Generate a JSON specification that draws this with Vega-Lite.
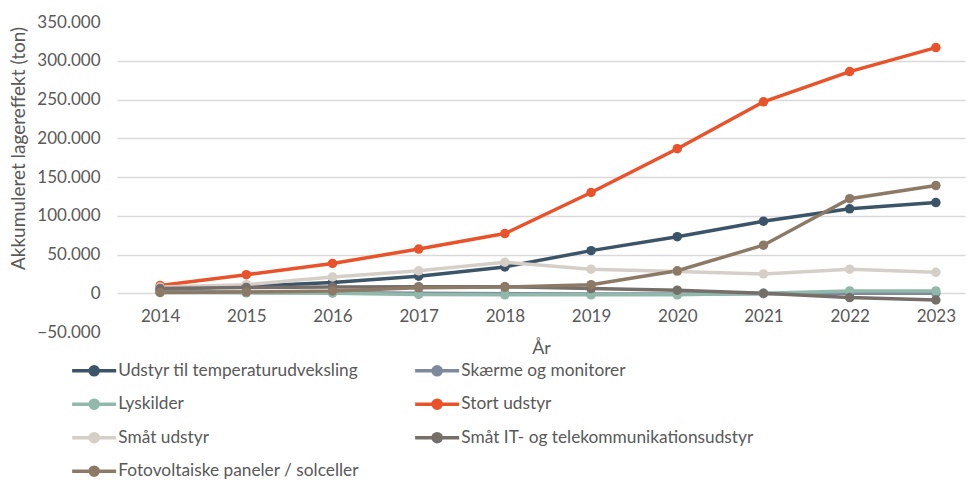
{
  "$schema": "https://vega.github.io/schema/vega-lite/v6.json",
  "autosize": {"type": "none"},
  "padding": {"left": 117, "top": 22, "right": 2, "bottom": 151},
  "width": 848,
  "height": 310,
  "background": "white",
  "config": {
    "view": {"stroke": null},
    "font": "Lato",
    "axis": {"labelFont": "Lato", "titleFont": "Lato", "labelColor": "#595959", "titleColor": "#595959", "titleFontWeight": "normal"},
    "legend": {"labelFont": "Lato", "labelColor": "#595959"}
  },
  "data": {
    "values": [
      {"year": 2014, "serie": "Udstyr til temperaturudveksling", "value": 5000},
      {"year": 2015, "serie": "Udstyr til temperaturudveksling", "value": 9000},
      {"year": 2016, "serie": "Udstyr til temperaturudveksling", "value": 14000},
      {"year": 2017, "serie": "Udstyr til temperaturudveksling", "value": 22000},
      {"year": 2018, "serie": "Udstyr til temperaturudveksling", "value": 34000},
      {"year": 2019, "serie": "Udstyr til temperaturudveksling", "value": 55000},
      {"year": 2020, "serie": "Udstyr til temperaturudveksling", "value": 73000},
      {"year": 2021, "serie": "Udstyr til temperaturudveksling", "value": 93000},
      {"year": 2022, "serie": "Udstyr til temperaturudveksling", "value": 109000},
      {"year": 2023, "serie": "Udstyr til temperaturudveksling", "value": 117000},
      {"year": 2014, "serie": "Skærme og monitorer", "value": 2000},
      {"year": 2015, "serie": "Skærme og monitorer", "value": 1500},
      {"year": 2016, "serie": "Skærme og monitorer", "value": 1000},
      {"year": 2017, "serie": "Skærme og monitorer", "value": 0},
      {"year": 2018, "serie": "Skærme og monitorer", "value": -500},
      {"year": 2019, "serie": "Skærme og monitorer", "value": -1000},
      {"year": 2020, "serie": "Skærme og monitorer", "value": -1000},
      {"year": 2021, "serie": "Skærme og monitorer", "value": -500},
      {"year": 2022, "serie": "Skærme og monitorer", "value": 0},
      {"year": 2023, "serie": "Skærme og monitorer", "value": 0},
      {"year": 2014, "serie": "Lyskilder", "value": 1000},
      {"year": 2015, "serie": "Lyskilder", "value": 500},
      {"year": 2016, "serie": "Lyskilder", "value": 0},
      {"year": 2017, "serie": "Lyskilder", "value": -1500},
      {"year": 2018, "serie": "Lyskilder", "value": -2000},
      {"year": 2019, "serie": "Lyskilder", "value": -2000},
      {"year": 2020, "serie": "Lyskilder", "value": -2000},
      {"year": 2021, "serie": "Lyskilder", "value": 0},
      {"year": 2022, "serie": "Lyskilder", "value": 3000},
      {"year": 2023, "serie": "Lyskilder", "value": 3000},
      {"year": 2014, "serie": "Stort udstyr", "value": 10000},
      {"year": 2015, "serie": "Stort udstyr", "value": 24000},
      {"year": 2016, "serie": "Stort udstyr", "value": 38500},
      {"year": 2017, "serie": "Stort udstyr", "value": 57000},
      {"year": 2018, "serie": "Stort udstyr", "value": 77000},
      {"year": 2019, "serie": "Stort udstyr", "value": 130000},
      {"year": 2020, "serie": "Stort udstyr", "value": 186500},
      {"year": 2021, "serie": "Stort udstyr", "value": 247000},
      {"year": 2022, "serie": "Stort udstyr", "value": 286000},
      {"year": 2023, "serie": "Stort udstyr", "value": 317000},
      {"year": 2014, "serie": "Småt udstyr", "value": 8000},
      {"year": 2015, "serie": "Småt udstyr", "value": 11000},
      {"year": 2016, "serie": "Småt udstyr", "value": 21000},
      {"year": 2017, "serie": "Småt udstyr", "value": 29000},
      {"year": 2018, "serie": "Småt udstyr", "value": 40000},
      {"year": 2019, "serie": "Småt udstyr", "value": 31000},
      {"year": 2020, "serie": "Småt udstyr", "value": 28000},
      {"year": 2021, "serie": "Småt udstyr", "value": 25000},
      {"year": 2022, "serie": "Småt udstyr", "value": 31000},
      {"year": 2023, "serie": "Småt udstyr", "value": 27000},
      {"year": 2014, "serie": "Småt IT- og telekommunikationsudstyr", "value": 6000},
      {"year": 2015, "serie": "Småt IT- og telekommunikationsudstyr", "value": 7500},
      {"year": 2016, "serie": "Småt IT- og telekommunikationsudstyr", "value": 8000},
      {"year": 2017, "serie": "Småt IT- og telekommunikationsudstyr", "value": 8500},
      {"year": 2018, "serie": "Småt IT- og telekommunikationsudstyr", "value": 8500},
      {"year": 2019, "serie": "Småt IT- og telekommunikationsudstyr", "value": 6000},
      {"year": 2020, "serie": "Småt IT- og telekommunikationsudstyr", "value": 4000},
      {"year": 2021, "serie": "Småt IT- og telekommunikationsudstyr", "value": 0},
      {"year": 2022, "serie": "Småt IT- og telekommunikationsudstyr", "value": -5600},
      {"year": 2023, "serie": "Småt IT- og telekommunikationsudstyr", "value": -8700},
      {"year": 2014, "serie": "Fotovoltaiske paneler / solceller", "value": 1000},
      {"year": 2015, "serie": "Fotovoltaiske paneler / solceller", "value": 1500},
      {"year": 2016, "serie": "Fotovoltaiske paneler / solceller", "value": 3000},
      {"year": 2017, "serie": "Fotovoltaiske paneler / solceller", "value": 7000},
      {"year": 2018, "serie": "Fotovoltaiske paneler / solceller", "value": 8000},
      {"year": 2019, "serie": "Fotovoltaiske paneler / solceller", "value": 11000},
      {"year": 2020, "serie": "Fotovoltaiske paneler / solceller", "value": 29000},
      {"year": 2021, "serie": "Fotovoltaiske paneler / solceller", "value": 62000},
      {"year": 2022, "serie": "Fotovoltaiske paneler / solceller", "value": 122000},
      {"year": 2023, "serie": "Fotovoltaiske paneler / solceller", "value": 139000}
    ]
  },
  "mark": {"type": "line", "strokeWidth": 3.5, "point": {"filled": true, "size": 90, "opacity": 1}},
  "encoding": {
    "x": {
      "field": "year", "type": "quantitative",
      "scale": {"domain": [2013.5, 2023.338], "nice": false, "zero": false},
      "axis": {
        "title": "År", "titleFontSize": 18, "titlePadding": 15,
        "values": [2014, 2015, 2016, 2017, 2018, 2019, 2020, 2021, 2022, 2023],
        "format": "d", "labelFontSize": 17, "labelPadding": 15,
        "offset": -39, "domain": false, "ticks": false, "grid": false
      }
    },
    "y": {
      "field": "value", "type": "quantitative",
      "scale": {"domain": [-50000, 350000], "nice": false},
      "axis": {
        "title": "Akkumuleret lagereffekt (ton)", "titleFontSize": 19,
        "titleX": -99, "titleY": 126, "titleAlign": "center", "titleBaseline": "middle", "titleAngle": -90,
        "values": [-50000, 0, 50000, 100000, 150000, 200000, 250000, 300000, 350000],
        "format": ",.0f", "labelExpr": "replace(datum.label, /,/g, '.')",
        "labelFontSize": 17, "labelPadding": 17,
        "domain": false, "ticks": false,
        "grid": true, "gridColor": "#D9D9D9", "gridWidth": 1.3,
        "gridOpacity": {"condition": {"test": "datum.value < 0 || datum.value > 300000", "value": 0}, "value": 1}
      }
    },
    "color": {
      "field": "serie", "type": "nominal",
      "sort": ["Udstyr til temperaturudveksling", "Skærme og monitorer", "Lyskilder", "Stort udstyr", "Småt udstyr", "Småt IT- og telekommunikationsudstyr", "Fotovoltaiske paneler / solceller"],
      "scale": {
        "domain": ["Udstyr til temperaturudveksling", "Skærme og monitorer", "Lyskilder", "Stort udstyr", "Småt udstyr", "Småt IT- og telekommunikationsudstyr", "Fotovoltaiske paneler / solceller"],
        "range": ["#3C5468", "#7E8A9B", "#90B9AB", "#E8532B", "#D6CFC7", "#766E69", "#8C7A66"]
      },
      "legend": {
        "title": null, "orient": "none", "legendX": -31.5, "legendY": 340,
        "direction": "horizontal",
        "columns": 2, "columnPadding": 48, "rowPadding": 10.5,
        "labelFontSize": 17.3, "labelLimit": 500, "labelOffset": 15.5,
        "symbolType": "M-4.4,0H4.4M0.8,0A0.8,0.8,0,1,1,-0.8,0A0.8,0.8,0,1,1,0.8,0",
        "symbolSize": 100, "symbolStrokeWidth": 3.5,
        "encode": {
          "symbols": {
            "update": {
              "fill": {"scale": "color", "field": "value"},
              "stroke": {"scale": "color", "field": "value"},
              "opacity": {"value": 1}
            }
          }
        }
      }
    }
  }
}
